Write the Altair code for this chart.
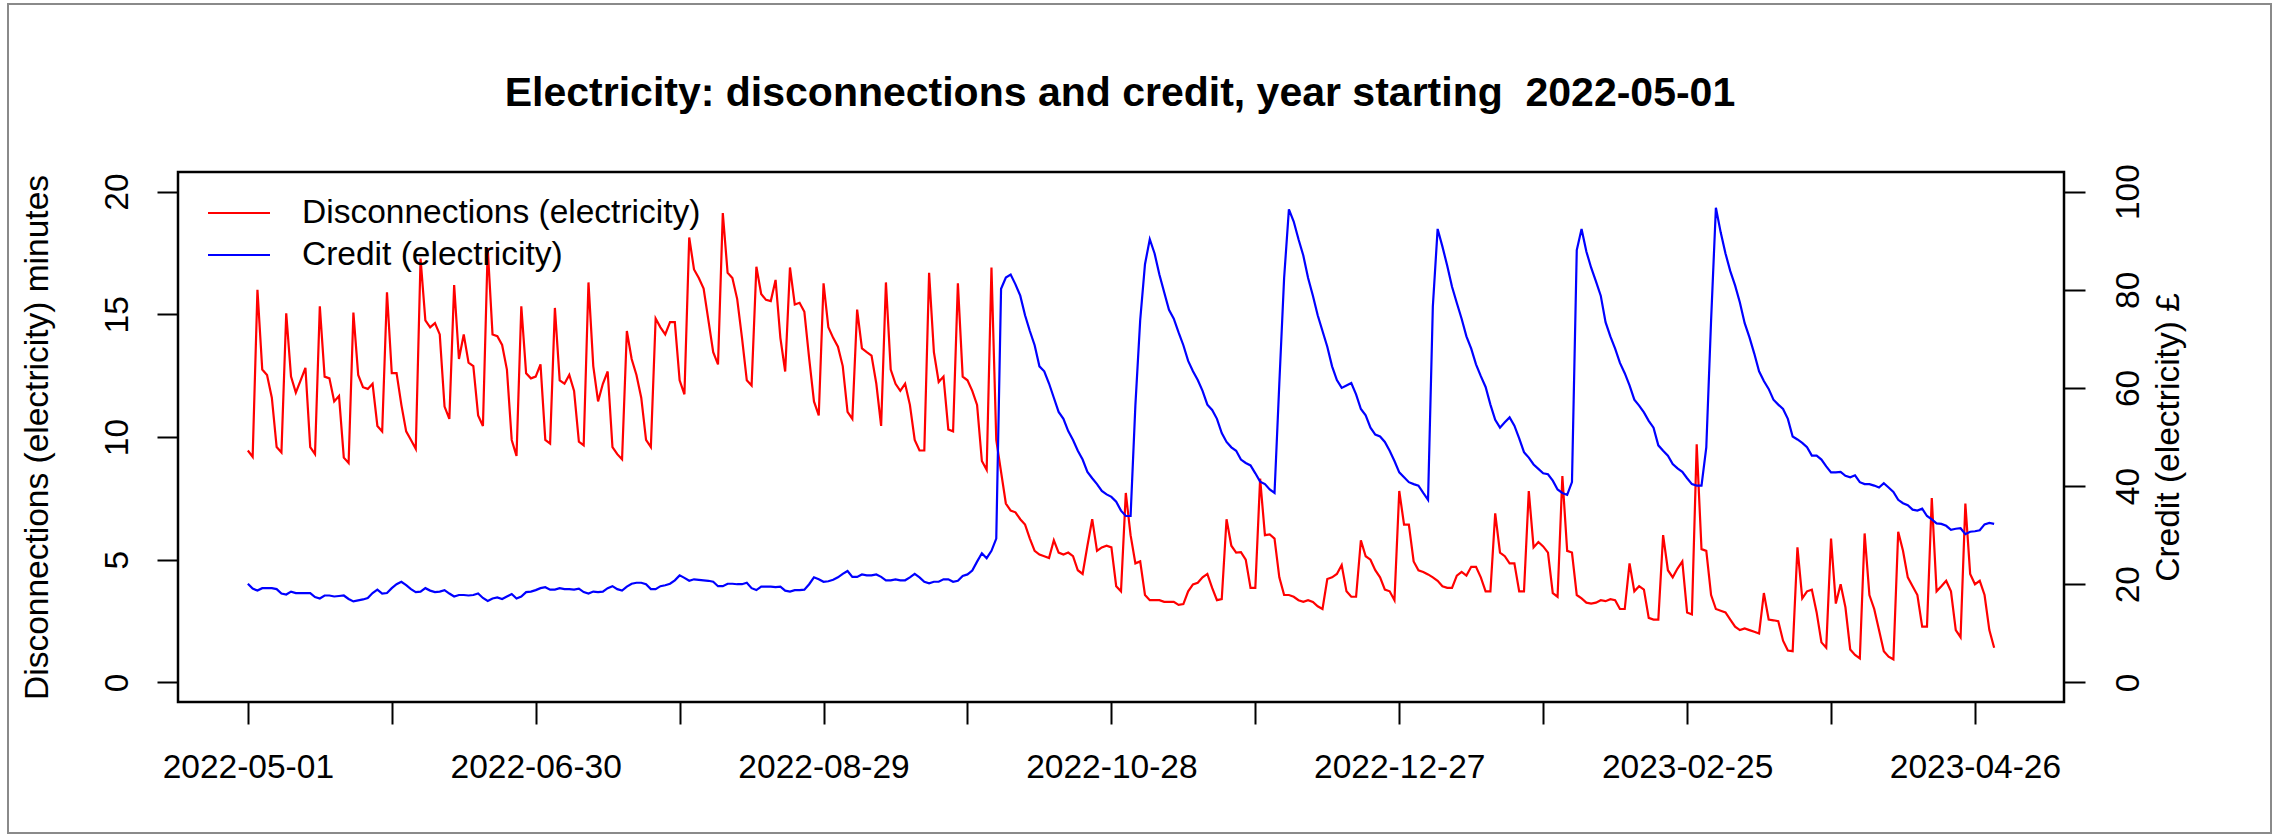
import json
import altair as alt
import pandas as pd

# ---- data: one value per day, year starting 2022-05-01 ----
start_date = "2022-05-01"

disconnections = [
    9.45, 9.19, 16.00, 12.75, 12.53, 11.60, 9.59, 9.37, 15.04, 12.46,
    11.81, 12.31, 12.82, 9.59, 9.30, 15.33, 12.46, 12.39, 11.45, 11.67,
    9.16, 8.94, 15.07, 12.53, 12.03, 11.96, 12.17, 10.45, 10.23, 15.90,
    12.60, 12.60, 11.31, 10.23, 9.88, 9.52, 17.27, 14.75, 14.47, 14.64,
    14.18, 11.24, 10.74, 16.19, 13.18, 14.18, 13.03, 12.89, 10.88, 10.45,
    17.70, 14.18, 14.11, 13.75, 12.75, 9.88, 9.23, 15.33, 12.60, 12.39,
    12.46, 12.96, 9.88, 9.73, 15.26, 12.31, 12.17, 12.53, 11.88, 9.81,
    9.66, 16.30, 12.89, 11.45, 12.17, 12.67, 9.59, 9.30, 9.09, 14.32,
    13.18, 12.53, 11.60, 9.88, 9.59, 14.83, 14.47, 14.18, 14.68, 14.68,
    12.31, 11.74, 18.13, 16.83, 16.48, 16.05, 14.75, 13.46, 12.96, 19.13,
    16.69, 16.48, 15.62, 14.04, 12.31, 12.10, 16.94, 15.83, 15.59, 15.54,
    16.40, 14.04, 12.67, 16.91, 15.40, 15.47, 15.10, 13.20, 11.45, 10.88,
    16.26, 14.47, 14.04, 13.68, 12.89, 11.02, 10.74, 15.19, 13.61, 13.46,
    13.32, 12.17, 10.45, 16.30, 12.75, 12.17, 11.88, 12.17, 11.31, 9.88,
    9.45, 9.45, 16.69, 13.46, 12.24, 12.46, 10.31, 10.23, 16.26, 12.46,
    12.31, 11.88, 11.31, 9.02, 8.66, 16.91, 9.88, 8.58, 7.29, 7.00,
    6.93, 6.65, 6.43, 5.86, 5.36, 5.21, 5.14, 5.07, 5.79, 5.29,
    5.21, 5.29, 5.14, 4.57, 4.42, 5.57, 6.65, 5.36, 5.50, 5.57,
    5.50, 3.92, 3.71, 7.72, 6.00, 4.85, 4.93, 3.56, 3.35, 3.35,
    3.35, 3.28, 3.28, 3.28, 3.16, 3.19, 3.71, 3.99, 4.06, 4.28,
    4.42, 3.85, 3.35, 3.39, 6.65, 5.57, 5.29, 5.31, 5.00, 3.85,
    3.85, 8.30, 6.00, 6.03, 5.86, 4.28, 3.56, 3.56, 3.49, 3.35,
    3.28, 3.35, 3.28, 3.10, 2.99, 4.21, 4.28, 4.42, 4.78, 3.71,
    3.49, 3.49, 5.79, 5.14, 5.00, 4.57, 4.28, 3.78, 3.71, 3.35,
    7.80, 6.43, 6.43, 4.93, 4.57, 4.50, 4.40, 4.28, 4.14, 3.92,
    3.85, 3.85, 4.35, 4.50, 4.35, 4.71, 4.71, 4.28, 3.71, 3.71,
    6.89, 5.29, 5.14, 4.85, 4.85, 3.71, 3.71, 7.80, 5.50, 5.72,
    5.54, 5.29, 3.64, 3.49, 8.41, 5.36, 5.29, 3.56, 3.42, 3.25,
    3.21, 3.25, 3.35, 3.31, 3.39, 3.35, 2.99, 2.99, 4.85, 3.71,
    3.92, 3.78, 2.63, 2.56, 2.56, 6.00, 4.57, 4.28, 4.64, 4.93,
    2.85, 2.77, 9.70, 5.43, 5.36, 3.56, 2.99, 2.92, 2.85, 2.56,
    2.27, 2.13, 2.20, 2.13, 2.06, 1.99, 3.64, 2.56, 2.53, 2.49,
    1.70, 1.30, 1.27, 5.50, 3.42, 3.71, 3.78, 2.85, 1.63, 1.41,
    5.86, 3.21, 4.00, 3.06, 1.34, 1.12, 0.98, 6.07, 3.56, 2.99,
    2.13, 1.27, 1.05, 0.94, 6.14, 5.36, 4.28, 3.92, 3.56, 2.27,
    2.27, 7.51, 3.71, 3.92, 4.14, 3.71, 2.13, 1.84, 7.29, 4.42,
    4.00, 4.14, 3.56, 2.13, 1.41,
]

credit = [
    20.1, 19.1, 18.7, 19.2, 19.2, 19.2, 19.0, 18.1, 17.9, 18.5,
    18.2, 18.2, 18.2, 18.2, 17.4, 17.1, 17.7, 17.7, 17.5, 17.6,
    17.7, 17.0, 16.5, 16.7, 16.9, 17.2, 18.2, 18.9, 18.1, 18.2,
    19.2, 20.0, 20.5, 19.8, 19.0, 18.4, 18.5, 19.2, 18.7, 18.4,
    18.5, 18.8, 18.1, 17.5, 17.8, 17.8, 17.7, 17.8, 18.1, 17.2,
    16.6, 17.1, 17.3, 17.0, 17.5, 18.0, 17.1, 17.5, 18.4, 18.5,
    18.8, 19.2, 19.4, 18.9, 18.9, 19.2, 19.0, 19.0, 18.9, 19.1,
    18.4, 18.1, 18.5, 18.4, 18.5, 19.2, 19.6, 19.0, 18.7, 19.5,
    20.1, 20.3, 20.3, 20.0, 19.0, 19.0, 19.6, 19.8, 20.1, 20.8,
    21.8, 21.3, 20.7, 21.0, 20.9, 20.8, 20.7, 20.5, 19.6, 19.6,
    20.1, 20.1, 20.0, 20.0, 20.3, 19.2, 18.8, 19.5, 19.5, 19.5,
    19.4, 19.5, 18.7, 18.5, 18.8, 18.8, 18.9, 20.0, 21.4, 21.0,
    20.5, 20.6, 20.9, 21.4, 22.1, 22.7, 21.5, 21.5, 22.0, 21.8,
    21.8, 22.0, 21.5, 20.8, 20.8, 21.0, 20.8, 20.8, 21.4, 22.1,
    21.4, 20.5, 20.2, 20.5, 20.5, 21.0, 21.0, 20.5, 20.7, 21.7,
    22.0, 22.8, 24.6, 26.3, 25.3, 26.8, 29.3, 80.2, 82.5, 83.1,
    81.1, 78.8, 74.8, 71.6, 68.7, 64.4, 63.4, 60.9, 58.0, 55.1,
    53.7, 51.2, 49.4, 47.2, 45.4, 42.9, 41.6, 40.4, 39.0, 38.3,
    37.8, 36.8, 35.0, 33.9, 33.9, 56.5, 73.8, 85.2, 90.3, 87.4,
    83.1, 79.5, 75.9, 74.1, 71.3, 68.7, 65.5, 63.4, 61.6, 59.4,
    56.6, 55.5, 53.7, 50.8, 49.0, 47.9, 47.2, 45.4, 44.7, 44.2,
    42.6, 40.9, 40.4, 39.3, 38.6, 60.9, 82.4, 96.4, 93.9, 90.3,
    87.0, 82.4, 78.8, 74.8, 71.6, 68.4, 64.4, 61.6, 60.0, 60.5,
    61.0, 58.7, 55.7, 54.4, 51.9, 50.5, 50.1, 49.0, 47.2, 45.1,
    42.8, 41.8, 40.8, 40.4, 40.1, 38.6, 37.2, 76.6, 92.4, 88.8,
    84.9, 80.6, 77.3, 74.1, 70.5, 68.0, 64.8, 62.4, 60.2, 56.6,
    53.5, 51.9, 53.0, 54.0, 52.3, 49.7, 46.9, 45.8, 44.4, 43.5,
    42.6, 42.4, 41.1, 39.3, 38.6, 38.2, 40.8, 88.1, 92.4, 87.8,
    84.5, 81.7, 78.8, 73.4, 70.5, 68.0, 65.1, 63.0, 60.5, 57.6,
    56.4, 55.0, 53.3, 51.9, 48.3, 47.2, 46.2, 44.5, 43.6, 42.9,
    41.6, 40.4, 40.1, 40.1, 47.9, 73.8, 96.7, 91.7, 87.4, 83.8,
    80.9, 77.4, 73.2, 70.3, 67.0, 63.4, 61.4, 59.8, 57.6, 56.6,
    55.7, 53.7, 50.1, 49.5, 48.8, 47.9, 46.2, 46.2, 45.4, 44.0,
    42.8, 42.8, 42.9, 42.1, 41.8, 42.2, 40.8, 40.4, 40.4, 40.1,
    39.7, 40.6, 39.7, 38.8, 37.2, 36.5, 36.1, 35.2, 35.0, 35.4,
    33.9, 33.2, 32.4, 32.3, 31.9, 31.1, 31.3, 31.4, 30.2, 30.7,
    30.8, 31.0, 32.2, 32.5, 32.3,
]

series_names = ["Disconnections (electricity)", "Credit (electricity)"]
series_colors = ["#ff0000", "#0000ff"]

# x ticks every 30 days; only every other tick carries a label
tick_days = [0, 30, 60, 90, 120, 150, 180, 210, 240, 270, 300, 330, 360]
tick_labels = [
    "2022-05-01", "2022-05-31", "2022-06-30", "2022-07-30", "2022-08-29",
    "2022-09-28", "2022-10-28", "2022-11-27", "2022-12-27", "2023-01-26",
    "2023-02-25", "2023-03-27", "2023-04-26",
]
left_ticks = [0, 5, 10, 15, 20]
right_ticks = [0, 20, 40, 60, 80, 100]

title_text = "Electricity: disconnections and credit, year starting \u00a02022-05-01"

# ---- layout constants (pixels) ----
W, H = 1886, 530
PAD = {"left": 178, "top": 172, "right": 218, "bottom": 134}
FONT = "Liberation Sans"
FS = 33.5

n = len(disconnections)
df = pd.DataFrame({
    "day": list(range(n)),
    "date": pd.date_range(start_date, periods=n).strftime("%Y-%m-%d"),
    "disconnections": disconnections,
    "credit": credit,
})

# R-style 4% axis extension around the data range
x_lo, x_hi = 0, n - 1
x_ext = 0.04 * (x_hi - x_lo)
x_scale = alt.Scale(domain=[x_lo - x_ext, x_hi + x_ext], nice=False, zero=False)
y1_scale = alt.Scale(domain=[-0.8, 20.8], nice=False, zero=False)
y2_scale = alt.Scale(domain=[-4, 104], nice=False, zero=False)

shown = [lab if i % 2 == 0 else "" for i, lab in enumerate(tick_labels)]
label_expr = json.dumps(shown) + "[round(datum.value / 30)]"

x_axis = alt.Axis(
    values=tick_days, labelExpr=label_expr, title=None, grid=False,
    domain=False, tickSize=22, tickWidth=2, tickColor="black",
    labelFont=FONT, labelFontSize=FS, labelColor="black",
    labelPadding=53, labelBaseline="alphabetic", labelOverlap=False,
)

common_y = dict(
    grid=False, domain=False, tickSize=21, tickWidth=2, tickColor="black",
    labelFont=FONT, labelFontSize=FS, labelColor="black",
    labelAngle=270, labelAlign="center", labelBaseline="alphabetic",
    labelOverlap=False, titleFont=FONT, titleFontSize=FS,
    titleFontWeight="normal", titleColor="black", titleAngle=270,
    titleAlign="center", titleBaseline="alphabetic", titleY=H / 2,
)

red_line = alt.Chart(df).mark_line(
    color=series_colors[0], strokeWidth=2.2
).encode(
    x=alt.X("day:Q", scale=x_scale, axis=x_axis),
    y=alt.Y(
        "disconnections:Q", scale=y1_scale,
        axis=alt.Axis(orient="left", values=left_ticks,
                      title="Disconnections (electricity) minutes",
                      labelPadding=30, titleX=-131, **common_y),
    ),
)

blue_line = alt.Chart(df).mark_line(
    color=series_colors[1], strokeWidth=2.2
).encode(
    x=alt.X("day:Q", scale=x_scale, axis=x_axis),
    y=alt.Y(
        "credit:Q", scale=y2_scale,
        axis=alt.Axis(orient="right", values=right_ticks,
                      title="Credit (electricity) \u00a3",
                      labelPadding=53, titleX=114, **common_y),
    ),
)

# legend in the top-left corner of the plot
legend_df = pd.DataFrame({"series": series_names, "row": [0, 1]})
legend_y = alt.Y("row:Q", scale=alt.Scale(domain=[0, 1], range=[41, 83]), axis=None)
legend_color = alt.Color(
    "series:N", scale=alt.Scale(domain=series_names, range=series_colors), legend=None
)
legend_lines = alt.Chart(legend_df).mark_rule(strokeWidth=2.2).encode(
    x=alt.value(30), x2=alt.value(92), y=legend_y, color=legend_color,
)
legend_text = alt.Chart(legend_df).mark_text(
    align="left", baseline="middle", font=FONT, fontSize=FS, color="black"
).encode(
    x=alt.value(124), y=legend_y, text="series:N",
)

# main title above the plot
title_mark = alt.Chart(pd.DataFrame({"t": [title_text]})).mark_text(
    align="center", baseline="alphabetic", font=FONT, fontSize=41,
    fontWeight="bold", color="black",
).encode(x=alt.value(W / 2 - 1), y=alt.value(-66), text="t:N")

# thin grey frame around the whole figure
frame = alt.Chart(pd.DataFrame({"k": [0]})).mark_rect(
    fill="transparent", stroke="#8a8a8a", strokeWidth=2
).encode(
    x=alt.value(-170), x2=alt.value(2093), y=alt.value(-168), y2=alt.value(661),
)

chart = alt.layer(
    frame, red_line, blue_line, legend_lines, legend_text, title_mark
).resolve_scale(
    y="independent"
).properties(
    width=W, height=H, padding=PAD,
    autosize=alt.AutoSizeParams(type="none"),
    background="white",
).configure_view(
    stroke="black", strokeWidth=2.5,
)

chart.save("out.html", embed_options={"renderer": "svg", "actions": False})
